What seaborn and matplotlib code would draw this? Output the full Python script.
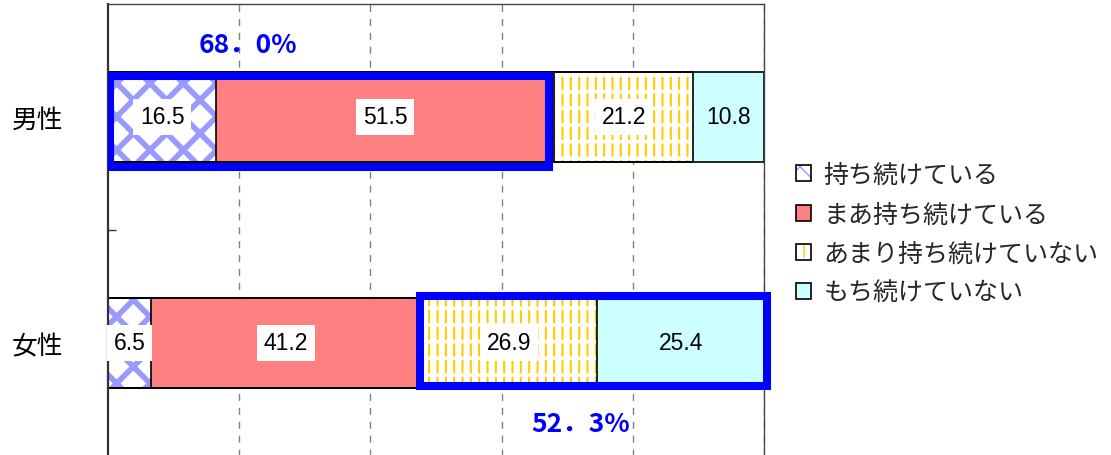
import matplotlib
matplotlib.use("Agg")
import matplotlib.pyplot as plt
import matplotlib.patches as mpatches
from matplotlib.legend_handler import HandlerTuple
import seaborn as sns
import pandas as pd
import numpy as np

# data
groups = ["男性", "女性"]
series = ["持ち続けている", "まあ持ち続けている", "あまり持ち続けていない", "もち続けていない"]
male = [16.5, 51.5, 21.2, 10.8]
female = [6.5, 41.2, 26.9, 25.4]
male_keep = "68．0%"
female_not = "52．3%"

face_colors = ["white", "#FF8080", "white", "#CCFFFF"]
hatch_colors = ["#9999FF", None, "#FFCC00", None]
hatches = ["x", None, "||", None]
hatch_lws = [4.0, 1.0, 1.5, 1.0]

sns.set_theme(style="white")
plt.rcParams["font.family"] = ["Noto Sans CJK JP", "DejaVu Sans"]

vals = np.array([male, female])
cum = vals.cumsum(axis=1)
left = cum - vals

fig = plt.figure(figsize=(11.11, 4.56), dpi=100)
ax = fig.add_axes([108 / 1111, -1 / 456, 656 / 1111, 452 / 456])

bar_w = 0.4
legend_parts = {i: [] for i in range(4)}


def layer(values, color, fill=True, hatch_lw=1.0):
    plt.rcParams["hatch.linewidth"] = hatch_lw
    df = pd.DataFrame({"group": groups, "value": values})
    n0 = len(ax.patches)
    sns.barplot(data=df, x="value", y="group", orient="h", color=color,
                saturation=1, width=bar_w, errorbar=None, fill=fill, ax=ax)
    new = ax.patches[n0:]
    for p in new:
        if hasattr(p, "set_hatch_linewidth"):
            p.set_hatch_linewidth(hatch_lw)
    return new


# stacked bars drawn as overlapping cumulative bars, last segment first
for i in range(3, -1, -1):
    new = layer(cum[:, i], face_colors[i], hatch_lw=hatch_lws[i])
    for p in new:
        p.set_linewidth(0)
        if hatches[i]:
            p.set_edgecolor(hatch_colors[i])
            p.set_hatch(hatches[i])
    legend_parts[i].append(new[0])
    if i == 2:
        # white horizontal hatch breaks the yellow lines into dashes
        brk = layer(cum[:, i], "white", fill=False, hatch_lw=2.5)
        for p in brk:
            p.set_linewidth(0)
            p.set_edgecolor("white")
            p.set_hatch("-")
        legend_parts[i].append(brk[0])

# black outlines
for i in range(4):
    out = layer(cum[:, i], "black", fill=False)
    for p in out:
        p.set_linewidth(1.2)
        p.set_edgecolor("black")
    legend_parts[i].append(out[0])

# value labels
for r in range(2):
    for i in range(4):
        box = dict(boxstyle="square,pad=0.3", fc="white", ec="none") if i < 3 else None
        ax.text(left[r, i] + vals[r, i] / 2, r, f"{vals[r, i]:.1f}", ha="center", va="center",
                fontsize=16.5, family=["Liberation Sans", "DejaVu Sans"], color="black",
                bbox=box, zorder=6)

# blue highlight frames
ax.add_patch(mpatches.Rectangle((0.3, -0.18), cum[0, 1] - 1.0, 0.40, fill=False,
                                edgecolor="#0000FF", lw=5.8, joinstyle="miter", zorder=5))
ax.add_patch(mpatches.Rectangle((left[1, 2] - 0.1, 1 - 0.21), 100 - left[1, 2] + 0.6, 0.40,
                                fill=False, edgecolor="#0000FF", lw=5.8, joinstyle="miter",
                                zorder=5, clip_on=False))
ax.text(21.3, -0.32, male_keep, color="#0000FF", fontsize=19, fontweight="bold",
        ha="center", va="center")
ax.text(72.1, 1.354, female_not, color="#0000FF", fontsize=19, fontweight="bold",
        ha="center", va="center")

ax.set_xlim(0, 100)
ax.set_ylim(1.5, -0.5)
ax.set_xticks([20, 40, 60, 80, 100])
ax.set_xticklabels([])
ax.set_yticks([0, 1], groups)
ax.set_yticks([0.5], minor=True)
ax.tick_params(axis="x", length=0)
ax.tick_params(axis="y", which="major", length=0, pad=32, labelsize=18.5, labelcolor="black")
ax.tick_params(axis="y", which="minor", left=True, direction="in", length=6, width=1,
               color="#333333")
ax.set_xlabel("")
ax.set_ylabel("")
ax.set_axisbelow(True)
ax.xaxis.grid(True, color="#808080", linestyle=(0, (5, 5)), lw=1)
ax.yaxis.grid(False)
ax.spines["left"].set_linewidth(1.6)
ax.spines["left"].set_color("#333333")
for s in ["top", "right"]:
    ax.spines[s].set_linewidth(1)
    ax.spines[s].set_color("#444444")
ax.spines["bottom"].set_visible(False)

handles = [tuple(legend_parts[i]) for i in range(4)]
ax.legend(handles, series, handler_map={tuple: HandlerTuple(ndivide=1, pad=0)},
          loc="center left", bbox_to_anchor=(796 / 1111, 1 - 235 / 456),
          bbox_transform=fig.transFigure, frameon=False, fontsize=18,
          handlelength=0.6, handleheight=0.6, handletextpad=0.5,
          labelspacing=0.53, borderpad=0, borderaxespad=0)

fig.savefig("out.png", dpi=100)
